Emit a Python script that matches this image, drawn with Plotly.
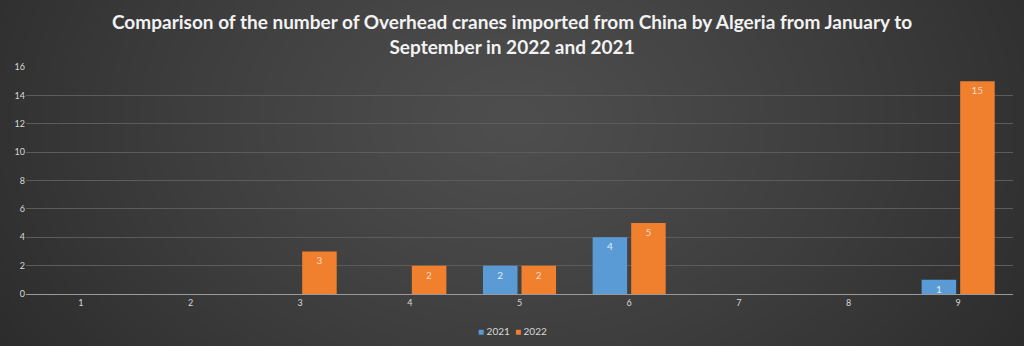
import base64, struct, zlib
import numpy as np
import plotly.graph_objects as go

months = ["1", "2", "3", "4", "5", "6", "7", "8", "9"]
y2021 = [0, 0, 0, 0, 2, 4, 0, 0, 1]
y2022 = [0, 0, 3, 2, 2, 5, 0, 0, 15]
series_names = ["2021", "2022"]
title_text = ("Comparison of the number of Overhead cranes imported from China by Algeria from January to<br>"
              "September in 2022 and 2021")

W, H = 1024, 346
ML, MR, MT, MB = 26, 11, 67, 52
PW, PH = W - ML - MR, H - MT - MB
C21, C22 = "#5b9bd5", "#f07f2e"

# radial gradient background as PNG
def make_png(w, h):
    yy, xx = np.mgrid[0:h, 0:w]
    cx, cy = w / 2, h * 0.35
    d = np.sqrt(((xx - cx) / (w * 0.62)) ** 2 + ((yy - cy) / (h * 1.3)) ** 2)
    d = np.clip(d, 0, 1)
    inner, outer = 78, 42
    v = (inner + (outer - inner) * d ** 1.2).astype(np.uint8)
    rgb = np.stack([v, v, v], axis=-1)
    raw = b"".join(b"\x00" + rgb[r].tobytes() for r in range(h))
    def chunk(t, data):
        c = struct.pack(">I", len(data)) + t + data
        return c + struct.pack(">I", zlib.crc32(t + data) & 0xffffffff)
    png = b"\x89PNG\r\n\x1a\n" + chunk(b"IHDR", struct.pack(">IIBBBBB", w, h, 8, 2, 0, 0, 0))
    png += chunk(b"IDAT", zlib.compress(raw, 9)) + chunk(b"IEND", b"")
    return "data:image/png;base64," + base64.b64encode(png).decode()

def vals(v):
    return [x if x else None for x in v]

def lab(v):
    return [str(x) if x else "" for x in v]

fig = go.Figure()
for name, data, col, tcol in [(series_names[0], y2021, C21, "#e3ecf7"),
                              (series_names[1], y2022, C22, "#fadcc6")]:
    fig.add_trace(go.Bar(x=months, y=vals(data), name=name, marker_color=col,
                         marker_line_width=0, showlegend=False,
                         text=lab(data), textposition="inside", insidetextanchor="end",
                         textangle=0, constraintext="none",
                         textfont=dict(color=tcol, size=10)))

legend_text = (f"<span style='color:{C21}'>■</span> {series_names[0]}  "
               f"<span style='color:{C22}'>■</span> {series_names[1]}")

fig.update_layout(
    width=W, height=H,
    margin=dict(l=ML, r=MR, t=MT, b=MB, autoexpand=False),
    paper_bgcolor="#3a3a3a", plot_bgcolor="rgba(0,0,0,0)",
    images=[dict(source=make_png(W, H), xref="paper", yref="paper", x=-ML/PW, y=1 + MT/PH,
                 sizex=W/PW, sizey=H/PH, xanchor="left", yanchor="top",
                 layer="below", sizing="stretch")],
    barmode="group", bargap=0.297, bargroupgap=0.104,
    uniformtext=dict(minsize=8, mode="show"),
    font=dict(family="Lato", color="#d9d9d9", size=10),
    showlegend=False,
    annotations=[
        dict(text=title_text, xref="paper", yref="paper", x=(512-ML)/PW, y=1 + (MT-8)/PH,
             xanchor="center", yanchor="top", showarrow=False, align="center",
             font=dict(family="Lato", size=19, color="#f2f2f2", weight="bold")),
        dict(text=legend_text, xref="paper", yref="paper", x=(512-ML)/PW, y=-(331-294)/PH,
             xanchor="center", yanchor="middle", showarrow=False,
             font=dict(family="Lato", size=10, color="#d9d9d9")),
    ],
)
fig.update_xaxes(showgrid=False, showline=True, linecolor="#9a9a9a", linewidth=1,
                 tickfont=dict(size=9, color="#d9d9d9"), ticks="", ticklen=0)
fig.update_yaxes(range=[0, 16], dtick=2, showgrid=True, gridcolor="#5c5c5c", gridwidth=1,
                 zeroline=False, tickfont=dict(size=9, color="#d9d9d9"), ticks="")

fig.write_html("out.html")
